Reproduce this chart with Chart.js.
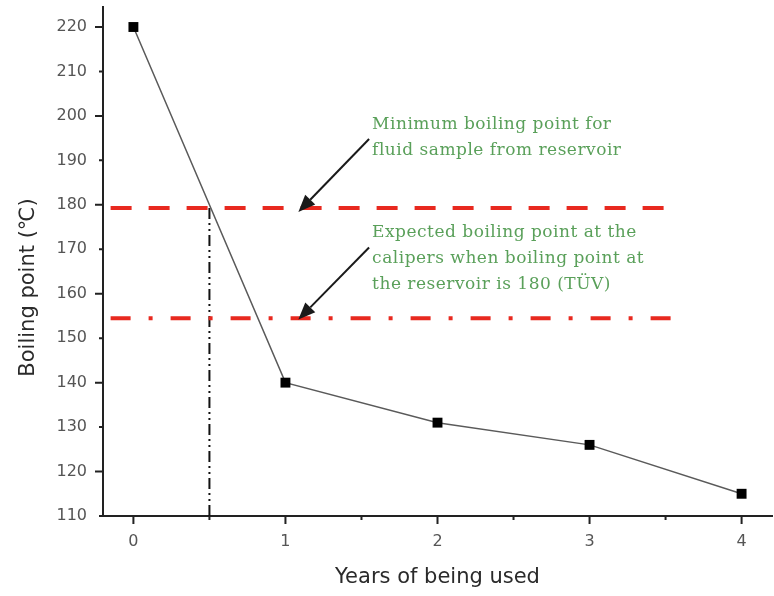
<!DOCTYPE html>
<html>
<head>
<meta charset="utf-8">
<script src="https://cdn.jsdelivr.net/npm/chart.js@4.4.1/dist/chart.umd.min.js"></script>
<style>
    html, body { margin: 0; padding: 0; background: #fff; }
    #wrap { width: 774px; height: 596px; }
</style>
</head>
<body>
<div id="wrap"><canvas id="chart" width="774" height="596"></canvas></div>
<script>
// measured series
const years = [0, 1, 2, 3, 4];
const boilingPoint = [220, 140, 131, 126, 115];

// axis ticks
const xTicks = [0, 0.5, 1, 1.5, 2, 2.5, 3, 3.5, 4];
const yTicks = [110, 120, 130, 140, 150, 160, 170, 180, 190, 200, 210, 220];

// reference levels (value, start year, end year)
const reservoirLevel = [179.3, -0.15, 3.57];
const caliperLevel = [154.5, -0.15, 3.57];
const crossingYear = 0.5;

// arrows: [from x, from y, to x, to y]
const arrows = [
    [1.55, 194.8, 1.085, 178.4],
    [1.55, 170.4, 1.085, 154.2]
];

// notes: x, y of first line, lines
const noteX = [1.57, 1.57];
const noteY = [198.1, 173.8];
const noteLines = [
    ['Minimum boiling point for', 'fluid sample from reservoir'],
    ['Expected boiling point at the', 'calipers when boiling point at', 'the reservoir is 180 (TÜV)']
];

const xTitle = 'Years of being used';
const yTitle = 'Boiling point (\u2103)';

const tickFont = { family: '"DejaVu Sans", sans-serif', size: 16 };

function noPadding(scale) {
    scale.paddingTop = 0;
    scale.paddingBottom = 0;
    scale.paddingLeft = 0;
    scale.paddingRight = 0;
}

const decorPlugin = {
    id: 'decor',
    afterLayout(chart) {
        // let the x axis run almost to the right edge, like the original figure
        const xs = chart.scales.x;
        const right = chart.width - 2;
        chart.chartArea.right = right;
        chart.chartArea.width = right - chart.chartArea.left;
        xs.right = right;
        xs.width = right - xs.left;
        xs.configure();
    },
    afterDatasetsDraw(chart) {
        const ctx = chart.ctx;
        const xs = chart.scales.x;
        const ys = chart.scales.y;
        ctx.save();

        // arrows
        ctx.strokeStyle = '#1a1a1a';
        ctx.fillStyle = '#1a1a1a';
        ctx.lineWidth = 2;
        arrows.forEach(a => {
            const x1 = xs.getPixelForValue(a[0]), y1 = ys.getPixelForValue(a[1]);
            const x2 = xs.getPixelForValue(a[2]), y2 = ys.getPixelForValue(a[3]);
            const ang = Math.atan2(y2 - y1, x2 - x1);
            const headLen = 17, headW = 7;
            const bx = x2 - headLen * Math.cos(ang), by = y2 - headLen * Math.sin(ang);
            ctx.beginPath();
            ctx.moveTo(x1, y1);
            ctx.lineTo(bx, by);
            ctx.stroke();
            ctx.beginPath();
            ctx.moveTo(x2, y2);
            ctx.lineTo(bx + headW * Math.sin(ang), by - headW * Math.cos(ang));
            ctx.lineTo(bx - headW * Math.sin(ang), by + headW * Math.cos(ang));
            ctx.closePath();
            ctx.fill();
        });

        // notes
        ctx.fillStyle = '#5aa05a';
        ctx.font = '17px "DejaVu Serif", serif';
        ctx.letterSpacing = '0.5px';
        ctx.textAlign = 'left';
        ctx.textBaseline = 'middle';
        noteLines.forEach((lines, i) => {
            const x = xs.getPixelForValue(noteX[i]);
            const y0 = ys.getPixelForValue(noteY[i]);
            lines.forEach((t, j) => ctx.fillText(t, x, y0 + j * 26));
        });
        ctx.restore();
    },
    afterDraw(chart) {
        const ctx = chart.ctx;
        const xs = chart.scales.x;
        const ys = chart.scales.y;
        const area = chart.chartArea;
        ctx.save();

        // tick marks
        ctx.strokeStyle = '#222';
        ctx.lineWidth = 2;
        ctx.beginPath();
        yTicks.forEach(v => {
            const y = ys.getPixelForValue(v);
            const len = v % 20 === 0 ? 8 : 4;
            ctx.moveTo(area.left, y);
            ctx.lineTo(area.left - len, y);
        });
        xTicks.forEach(v => {
            const x = xs.getPixelForValue(v);
            const len = Number.isInteger(v) ? 8 : 4;
            ctx.moveTo(x, area.bottom);
            ctx.lineTo(x, area.bottom + len);
        });
        ctx.stroke();

        // axis titles
        ctx.fillStyle = '#2a2a2a';
        ctx.font = '21px "DejaVu Sans", sans-serif';
        ctx.textAlign = 'center';
        ctx.textBaseline = 'middle';
        ctx.fillText(xTitle, (area.left + area.right) / 2, 578);
        ctx.translate(29, (area.top + area.bottom) / 2 + 26);
        ctx.rotate(-Math.PI / 2);
        ctx.fillText(yTitle, 0, 0);
        ctx.restore();
    }
};

const ctx = document.getElementById('chart').getContext('2d');
new Chart(ctx, {
    type: 'scatter',
    data: {
        datasets: [
            {
                data: [
                    { x: reservoirLevel[1], y: reservoirLevel[0] },
                    { x: reservoirLevel[2], y: reservoirLevel[0] }
                ],
                showLine: true,
                borderColor: '#e8291f',
                borderWidth: 4,
                borderDash: [21, 17],
                pointRadius: 0,
                order: 2
            },
            {
                data: [
                    { x: caliperLevel[1], y: caliperLevel[0] },
                    { x: caliperLevel[2], y: caliperLevel[0] }
                ],
                showLine: true,
                borderColor: '#e8291f',
                borderWidth: 4,
                borderDash: [20, 18, 4, 18],
                pointRadius: 0,
                order: 2
            },
            {
                data: [
                    { x: crossingYear, y: yTicks[0] },
                    { x: crossingYear, y: reservoirLevel[0] }
                ],
                showLine: true,
                borderColor: '#111',
                borderWidth: 2,
                borderDash: [11, 4, 2, 4, 2, 4],
                pointRadius: 0,
                order: 3
            },
            {
                data: years.map((y, i) => ({ x: y, y: boilingPoint[i] })),
                showLine: true,
                borderColor: '#5a5a5a',
                borderWidth: 1.5,
                pointStyle: 'rect',
                pointRadius: 7,
                pointBackgroundColor: '#000',
                pointBorderColor: '#000',
                pointBorderWidth: 0,
                order: 1
            }
        ]
    },
    options: {
        responsive: false,
        animation: false,
        layout: { padding: { top: 7, right: 2, left: 0, bottom: 0 } },
        plugins: {
            legend: { display: false },
            tooltip: { enabled: false }
        },
        scales: {
            x: {
                type: 'linear',
                min: -0.2,
                max: 4.2,
                afterBuildTicks: scale => { scale.ticks = xTicks.map(v => ({ value: v })); },
                afterFit: scale => { scale.height = 80; noPadding(scale); },
                grid: { display: false, drawTicks: false },
                border: { display: true, color: '#222', width: 2 },
                ticks: {
                    font: tickFont,
                    color: '#555',
                    padding: 16,
                    maxRotation: 0,
                    autoSkip: false,
                    callback: v => Number.isInteger(v) ? String(v) : ''
                }
            },
            y: {
                type: 'linear',
                min: 110,
                max: 224.5,
                afterBuildTicks: scale => { scale.ticks = yTicks.map(v => ({ value: v })); },
                afterFit: scale => { scale.width = 103; noPadding(scale); },
                grid: { display: false, drawTicks: false },
                border: { display: true, color: '#222', width: 2 },
                ticks: {
                    font: tickFont,
                    color: '#555',
                    padding: 16,
                    autoSkip: false
                }
            }
        }
    },
    plugins: [decorPlugin]
});
</script>
</body>
</html>
